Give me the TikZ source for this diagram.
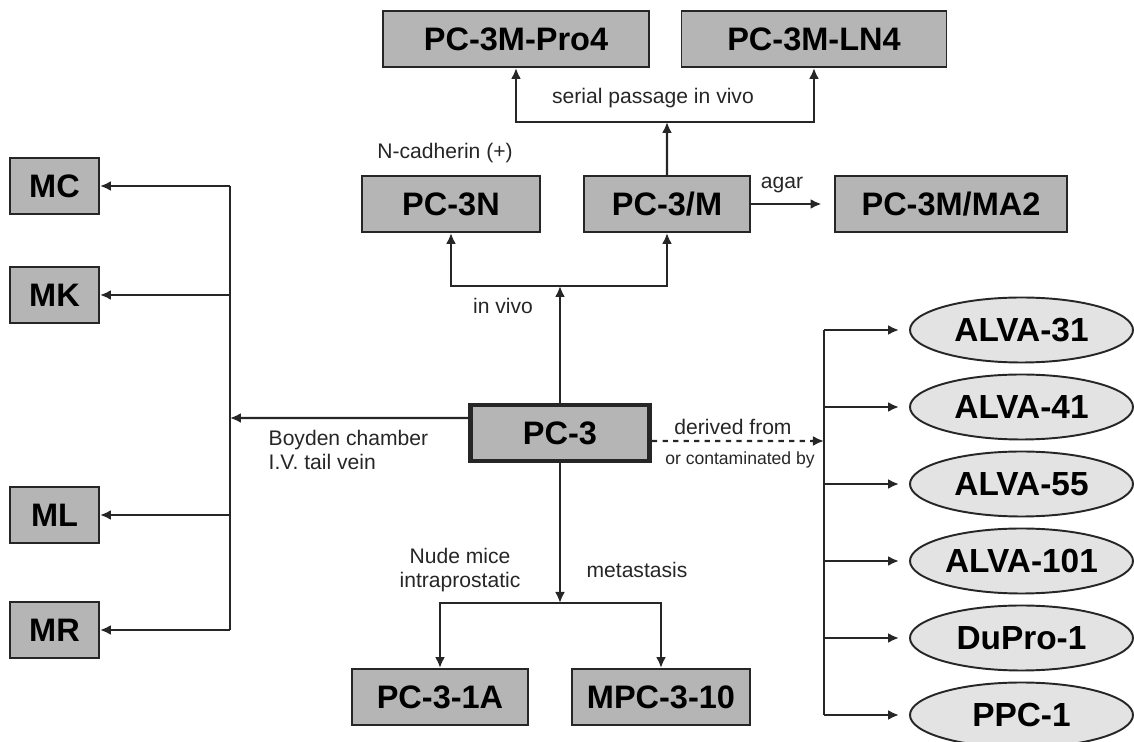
\documentclass[tikz,border=0pt]{standalone}
\usepackage{fontspec}
\setmainfont{Liberation Sans}
\usetikzlibrary{positioning, arrows.meta, shapes.geometric}

\begin{document}
\begin{tikzpicture}[on grid,
    box/.style={draw=black!85, fill=black!29, line width=1.1pt, minimum height=1.12cm,
      inner sep=0pt, font=\fontsize{18.5}{20}\selectfont\bfseries},
    oval/.style={ellipse, draw=black!85, fill=black!11, line width=1.1pt, minimum width=4.46cm,
      minimum height=1.3cm, inner sep=0pt, font=\fontsize{19}{20}\selectfont\bfseries},
    lbl/.style={font=\fontsize{12}{14}\selectfont, text=black!85},
    arr/.style={-{Latex[length=2.2mm,width=2mm]}, line width=1.3pt, draw=black!85}]
	\useasboundingbox (-11.2,-6.18) rectangle (11.48,8.66);

	% cell lines
	\node[box, line width=2.8pt, minimum width=3.58cm] (pc3) {PC-3};
	\node[box, minimum width=3.56cm] (pc3n) [above left=4.58cm and 2.18cm of pc3]  {PC-3N};
	\node[box, minimum width=3.32cm] (pc3m) [above right=4.58cm and 2.14cm of pc3] {PC-3/M};
	\node[box, minimum width=5.32cm] (pro4) [above right=3.3cm and 1.3cm of pc3n]  {PC-3M-Pro4};
	\node[box, minimum width=5.3cm]  (ln4)  [right=5.96cm of pro4]                 {PC-3M-LN4};
	\node[box, minimum width=4.64cm] (ma2)  [right=5.68cm of pc3m]                 {PC-3M/MA2};
	\node[box, minimum width=1.78cm] (mc)   [above left=4.94cm and 10.11cm of pc3] {MC};
	\node[box, minimum width=1.78cm] (mk)   [below=2.18cm of mc]                   {MK};
	\node[box, minimum width=1.78cm] (ml)   [below=4.4cm of mk]                    {ML};
	\node[box, minimum width=1.78cm] (mr)   [below=2.3cm of ml]                    {MR};
	\node[box, minimum width=3.52cm] (pc31a) [below left=5.28cm and 2.4cm of pc3]  {PC-3-1A};
	\node[box, minimum width=3.56cm] (mpc)  [right=4.42cm of pc31a]                {MPC-3-10};

	% derived / contaminated lines
	\node[oval] (a31)   [above right=2.06cm and 9.23cm of pc3] {ALVA-31};
	\node[oval] (a41)   [below=1.54cm of a31]   {ALVA-41};
	\node[oval] (a55)   [below=1.54cm of a41]   {ALVA-55};
	\node[oval] (a101)  [below=1.54cm of a55]   {ALVA-101};
	\node[oval] (dupro) [below=1.54cm of a101]  {DuPro-1};
	\node[oval] (ppc)   [below=1.54cm of dupro] {PPC-1};

	% labels
	\node[lbl] (serial) at (1.86,6.7)   {serial passage in vivo};
	\node[lbl] (ncad)   at (-2.3,5.6)   {N-cadherin (+)};
	\node[lbl] (agar)   at (4.44,4.96)  {agar};
	\node[lbl] (invivo) at (-1.14,2.54) {in vivo};
	\node[lbl, anchor=west, align=left] (boyden) at (-5.95,-0.34) {Boyden chamber\\I.V. tail vein};
	\node[lbl] (derived) at (3.46,0.12) {derived from};
	\node[lbl, font=\fontsize{10}{12}\selectfont] (contam) at (3.6,-0.54) {or contaminated by};
	\node[lbl, align=center] (nude) at (-2.0,-2.74) {Nude mice\\intraprostatic};
	\node[lbl] (metas)  at (1.54,-2.74) {metastasis};

	% junctions
	\coordinate (spj)  at (2.14,6.22);
	\coordinate (ivj)  at (0,2.94);
	\coordinate (bj)   at (0,-3.4);
	\coordinate (lbus) at (-6.6,0.3);
	\coordinate (rbus) at (5.28,-0.16);

	\draw[arr] (pc3m) -- (spj);
	\draw[arr] (spj) -| (pro4);
	\draw[arr] (spj) -| (ln4);
	\draw[arr, shorten >=2.5mm] (pc3m) -- (ma2);

	\draw[arr] (pc3) -- (ivj);
	\draw[arr] (ivj) -| (pc3n);
	\draw[arr] (ivj) -| (pc3m);

	\draw[arr] ([yshift=3mm]pc3.west) -- (lbus);
	\draw[line width=1.3pt, black!85] (lbus |- mc) -- (lbus |- mr);
	\foreach \m in {mc,mk,ml,mr}
		\draw[arr] (lbus |- \m) -- (\m);

	\draw[arr, dashed] ([yshift=-1.6mm]pc3.east) -- (rbus);
	\draw[line width=1.3pt, black!85] (rbus |- a31) -- (rbus |- ppc);
	\foreach \e in {a31,a41,a55,a101,dupro,ppc}
		\draw[arr, shorten >=2mm] (rbus |- \e) -- (\e);

	\draw[arr] (pc3) -- (bj);
	\draw[arr] (bj) -| (pc31a);
	\draw[arr] (bj) -| (mpc);
\end{tikzpicture}
\end{document}
